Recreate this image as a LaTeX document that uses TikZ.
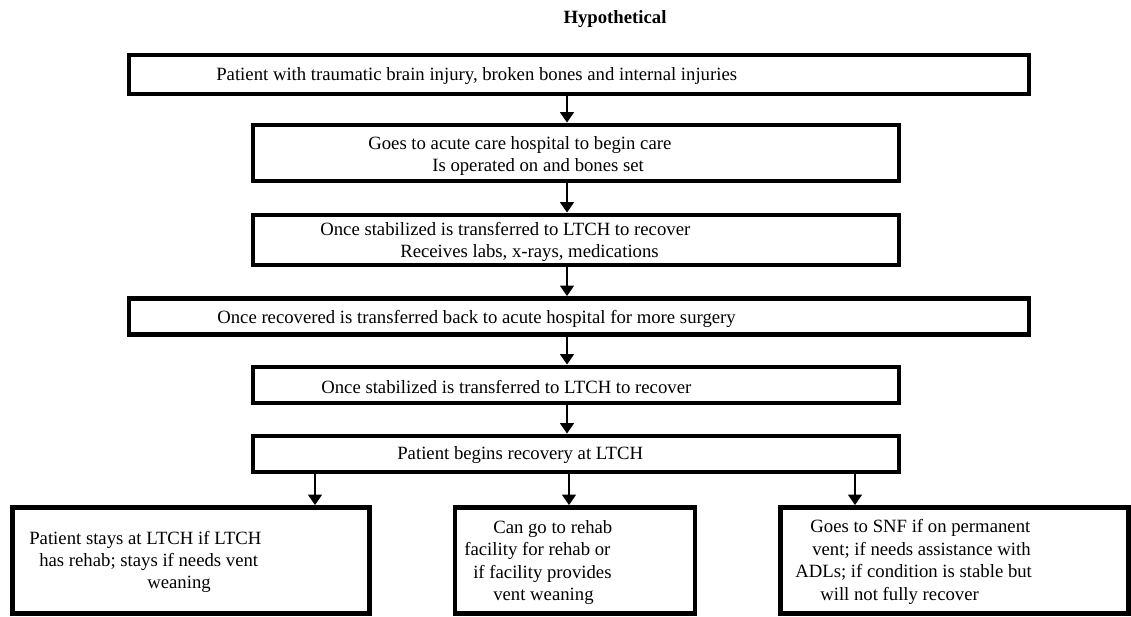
\documentclass[tikz,border=0pt]{standalone}
\usepackage{fontspec}
\setmainfont{Liberation Serif}
\usetikzlibrary{arrows.meta,calc,positioning}

\newcommand{\px}{0.625pt}

\tikzset{
  stage/.style={draw, line width=3pt, inner sep=0pt},
  note/.style={inner sep=0pt, font=\fontsize{11.7pt}{14pt}\selectfont},
  flow/.style={line width=1.4pt, -{Triangle[width=8.5pt,length=6.5pt]}}
}

\begin{document}
\begin{tikzpicture}[x=\px, y=-\px]
    \useasboundingbox (0,0) rectangle (1131,616);

    \node[note, font=\bfseries\fontsize{11.7pt}{14pt}\selectfont] (title) at (615,19) {Hypothetical};

    % boxes of the chain
    \node[stage, minimum width=900*\px, minimum height=39*\px] (injury) at (579,74.5) {};
    \node[stage, minimum width=646*\px, minimum height=56*\px] (acute) at (576,153) {};
    \node[stage, minimum width=646*\px, minimum height=50*\px] (ltch) at (576,240) {};
    \node[stage, minimum width=900*\px, minimum height=36*\px] (surgery) at (579,316.5) {};
    \node[stage, minimum width=646*\px, minimum height=36*\px] (back) at (576,385) {};
    \node[stage, minimum width=646*\px, minimum height=36*\px] (recovery) at (576,454) {};

    % the three ways out
    \node[stage, minimum width=357*\px, minimum height=106*\px] (stay) at (191,560.5) {};
    \node[stage, minimum width=240*\px, minimum height=106*\px] (rehab) at (575,560.5) {};
    \node[stage, minimum width=348*\px, minimum height=106*\px] (snf) at (954.5,560.5) {};

    \node[note, anchor=west] (injury-t) at (216,76) {Patient with traumatic brain injury, broken bones and internal injuries};
    \node[note, anchor=west, align=left] (acute-t) at (368,156) {Goes to acute care hospital to begin care\\\hspace*{40pt}Is operated on and bones set};
    \node[note, anchor=west, align=left] (ltch-t) at (320,242) {Once stabilized is transferred to LTCH to recover\\\hspace*{50pt}Receives labs, x-rays, medications};
    \node[note, anchor=west] (surgery-t) at (217,319) {Once recovered is transferred back to acute hospital for more surgery};
    \node[note, anchor=west] (back-t) at (321,387) {Once stabilized is transferred to LTCH to recover};
    \node[note, anchor=west] (recovery-t) at (397,455) {Patient begins recovery at LTCH};

    \node[note, anchor=west, align=left] (stay-t) at (29,562) {Patient stays at LTCH if LTCH\\\hspace*{6.25pt}has rehab; stays if needs vent\\\hspace*{73.75pt}weaning};
    \node[note, anchor=west, align=left] (rehab-t) at (464,562.5) {\hspace*{18.1pt}Can go to rehab\\facility for rehab or\\\hspace*{5.6pt}if facility provides\\\hspace*{18.1pt}vent weaning};
    \node[note, anchor=west, align=left] (snf-t) at (795,562) {\hspace*{9.4pt}Goes to SNF if on permanent\\\hspace*{10.6pt}vent; if needs assistance with\\ADLs; if condition is stable but\\\hspace*{15.6pt}will not fully recover};

    % arrows
    \coordinate (spine) at (567,0);
    \foreach \a/\b in {injury/acute, acute/ltch, ltch/surgery, surgery/back, back/recovery}
        \draw[flow] (\a.south -| spine) -- (\b.north -| spine);

    \foreach \x/\b in {315/stay, 569/rehab, 855/snf} {
        \coordinate (drop-\b) at (\x,0);
        \draw[flow] (recovery.south -| drop-\b) -- (\b.north -| drop-\b);
    }

\end{tikzpicture}
\end{document}
